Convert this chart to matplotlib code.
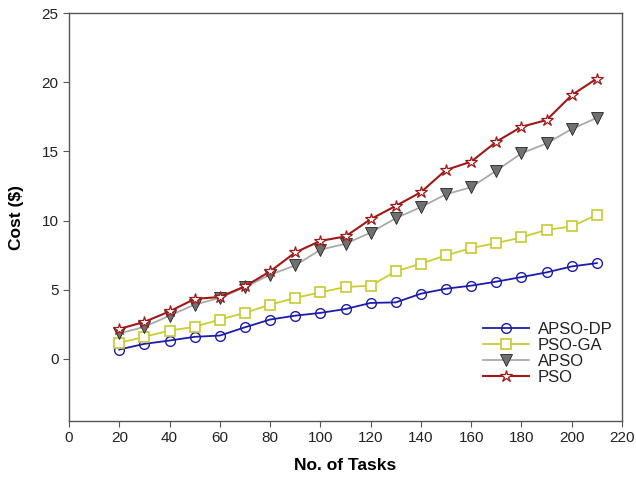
import matplotlib.pyplot as plt

plt.rcParams['font.family'] = ['Liberation Sans', 'DejaVu Sans']

tasks = [20, 30, 40, 50, 60, 70, 80, 90, 100, 110, 120, 130, 140, 150, 160, 170, 180, 190, 200, 210]
apso_dp = [0.67, 1.08, 1.32, 1.59, 1.68, 2.28, 2.84, 3.12, 3.32, 3.60, 4.04, 4.08, 4.71, 5.07, 5.29, 5.58, 5.91, 6.25, 6.68, 6.92]
pso_ga = [1.15, 1.59, 2.04, 2.31, 2.84, 3.32, 3.92, 4.40, 4.81, 5.19, 5.29, 6.32, 6.88, 7.48, 8.01, 8.37, 8.78, 9.33, 9.57, 10.41]
apso = [1.83, 2.31, 3.12, 3.92, 4.40, 5.19, 6.08, 6.75, 7.89, 8.32, 9.13, 10.17, 10.97, 11.90, 12.41, 13.61, 14.86, 15.58, 16.62, 17.43]
pso = [2.16, 2.67, 3.43, 4.33, 4.47, 5.24, 6.32, 7.69, 8.53, 8.85, 10.10, 11.06, 12.05, 13.66, 14.26, 15.70, 16.78, 17.27, 19.07, 20.27]

fig = plt.figure(figsize=(6.36, 4.87), dpi=100)
ax = fig.add_axes([0.1085, 0.1355, 0.8695, 0.8375])

ax.plot(tasks, apso_dp, '-o', color='#1c1ca8', linewidth=1.3, markersize=7,
        markerfacecolor='none', markeredgecolor='#1c1ca8', markeredgewidth=1.0, label='APSO-DP')
ax.plot(tasks, pso_ga, '-s', color='#cccc33', linewidth=1.3, markersize=7,
        markerfacecolor='white', markeredgecolor='#c8c832', markeredgewidth=1.2, label='PSO-GA')
ax.plot(tasks, apso, '-v', color='#aaaaaa', linewidth=1.3, markersize=8,
        markerfacecolor='#707070', markeredgecolor='#222222', markeredgewidth=0.6, label='APSO')
ax.plot(tasks, pso, '-*', color='#a01818', linewidth=1.5, markersize=9,
        markerfacecolor='white', markeredgecolor='#a01818', markeredgewidth=0.9, label='PSO')

ax.set_xlim(0, 220)
ax.set_ylim(-4.5, 25)
ax.set_xticks(range(0, 221, 20))
ax.set_yticks(range(0, 26, 5))

for s in ax.spines.values():
    s.set_color('#555555')
    s.set_linewidth(1.0)

ax.tick_params(axis='both', direction='out', length=4, color='#555555', labelsize=11, labelcolor='#222222')
ax.set_xlabel('No. of Tasks', fontsize=12.5, fontweight='bold', labelpad=9)
ax.set_ylabel('Cost ($)', fontsize=12.5, fontweight='bold', labelpad=13)

leg = ax.legend(loc='lower right', bbox_to_anchor=(1.01, 0.052), frameon=False, fontsize=12,
                handlelength=2.8, labelspacing=0.05, handletextpad=0.5)
for t in leg.get_texts():
    t.set_color('#222222')

fig.savefig('out.png', dpi=100)
